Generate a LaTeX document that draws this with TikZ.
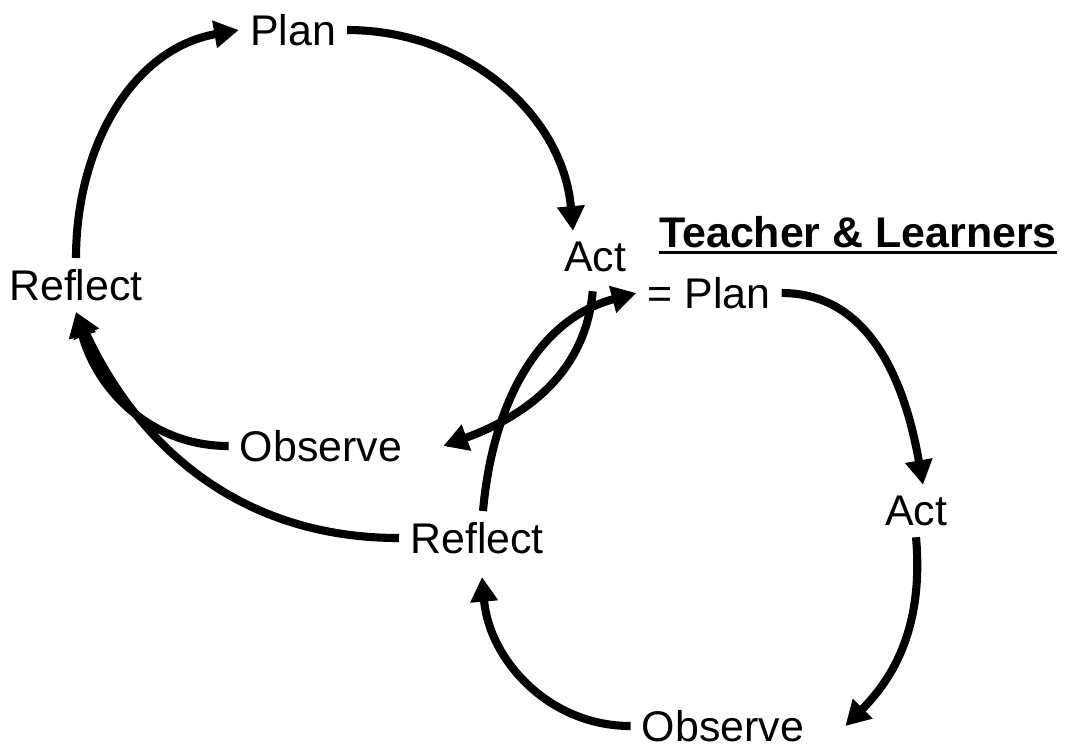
\documentclass[tikz,border=0pt]{standalone}
\usepackage{fontspec}
\setmainfont{Liberation Sans}
\usetikzlibrary{arrows.meta,calc}
\newcommand{\thickul}[1]{\setbox0\hbox{#1}\rlap{\rule[-1.9pt]{\wd0}{0.9pt}}\box0}

\begin{document}
\begin{tikzpicture}[
x=0.01cm, y=0.01cm,
stage/.style={inner sep=3pt, font=\fontsize{12.2}{14}\selectfont},
title/.style={inner sep=0pt, font=\fontsize{12.2}{14}\selectfont\bfseries},
cycle/.style={line width=2.3pt, -{Triangle[length=7pt,width=7.5pt]}},
]
\useasboundingbox (0,0) rectangle (1065,747);
\node[stage] (planA) at (293,717) {Plan};
\node[stage] (actA) at (595,490) {Act};
\node[stage] (reflA) at (76,462) {Reflect};
\node[stage] (obsA) at (321,301) {Observe};
\node[stage] (planB) at (709,454) {= Plan};
\node[stage] (actB) at (916,236) {Act};
\node[stage] (obsB) at (723,21) {Observe};
\node[stage] (reflB) at (477,209) {Reflect};
\node[title, anchor=base] (title) at (858,500) {\thickul{Teacher \& Learners}};

\draw[cycle] (reflA.north) to[out=90,in=190] (planA.west);
\draw[cycle] (planA.east) to[out=0,in=95] (actA.130);
\draw[cycle] ($(actA.-95)+(0,-8)$) to[out=-95,in=20] ($(obsA.east)+(30,0)$);
\draw[cycle] (obsA.west) to[out=180,in=-75] (reflA.south);
\draw[cycle] (reflB.west) to[out=180,in=-65] (reflA.south);
\draw[cycle] ($(reflB.north)+(6,0)$) to[out=85,in=195] (planB.west);
\draw[cycle] (planB.east) to[out=0,in=100] (actB.75);
\draw[cycle] (actB.south) to[out=-85,in=45] ($(obsB.east)+(30,0)$);
\draw[cycle] (obsB.west) to[out=180,in=-85] ($(reflB.south)+(5,-12)$);
\end{tikzpicture}
\end{document}
